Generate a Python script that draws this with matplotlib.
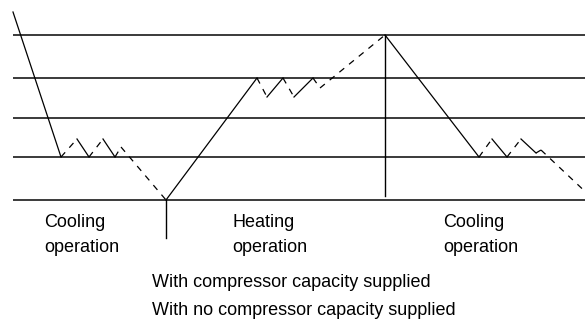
import matplotlib
matplotlib.use("Agg")
import matplotlib.pyplot as plt

plt.rcParams['font.family'] = ['Liberation Sans', 'DejaVu Sans']

W, H = 585, 322

# temperature threshold levels (screen rows, top = 0)
levels = [35, 78, 118, 157, 200]
level_x = [13, 585]

# room temperature trace: time, temperature, and whether the compressor runs on each leg
cool1_t = [13, 61, 77, 89, 103, 115, 121, 166]
cool1_T = [12, 157, 139, 157, 139, 157, 147, 200]
cool1_on = [True, False, True, False, True, False, False]

heat_t = [166, 257, 267, 283, 294, 313, 320, 385]
heat_T = [200, 78, 97, 78, 97, 78, 88, 35]
heat_on = [True, False, True, False, True, False, False]

cool2_t = [385, 479, 492, 507, 521, 536, 541, 592]
cool2_T = [35, 157, 139, 157, 139, 153, 150, 198]
cool2_on = [True, False, True, False, True, False, False]

# switch-over markers
switch_t = [166, 385]
switch_top = [200, 35]
switch_bottom = [238, 196]

labels = ["Cooling\noperation", "Heating\noperation", "Cooling\noperation"]
label_x = [44, 232, 443]
label_y = 214

legend_text = ["With compressor capacity supplied",
               "With no compressor capacity supplied"]
legend_x = 152
legend_y = [274, 302]

fig = plt.figure(figsize=(W / 100, H / 100), dpi=100)
ax = fig.add_axes([0, 0, 1, 1])
ax.set_xlim(0, W)
ax.set_ylim(H, 0)
ax.axis('off')

for y in levels:
    ax.plot(level_x, [y, y], color='#3a3a3a', lw=1.4, solid_capstyle='butt')

for t, T, on in [(cool1_t, cool1_T, cool1_on),
                 (heat_t, heat_T, heat_on),
                 (cool2_t, cool2_T, cool2_on)]:
    for i, state in enumerate(on):
        ax.plot(t[i:i + 2], T[i:i + 2], color='black', lw=0.9,
                linestyle='-' if state else (0, (5, 5)))

for x, y0, y1 in zip(switch_t, switch_top, switch_bottom):
    ax.plot([x, x], [y0, y1], color='black', lw=1.0)

for x, s in zip(label_x, labels):
    ax.text(x, label_y, s, fontsize=13, ha='left', va='top', linespacing=1.6)

for y, s in zip(legend_y, legend_text):
    ax.text(legend_x, y, s, fontsize=13, ha='left', va='top')

fig.savefig('out.png', dpi=100)
